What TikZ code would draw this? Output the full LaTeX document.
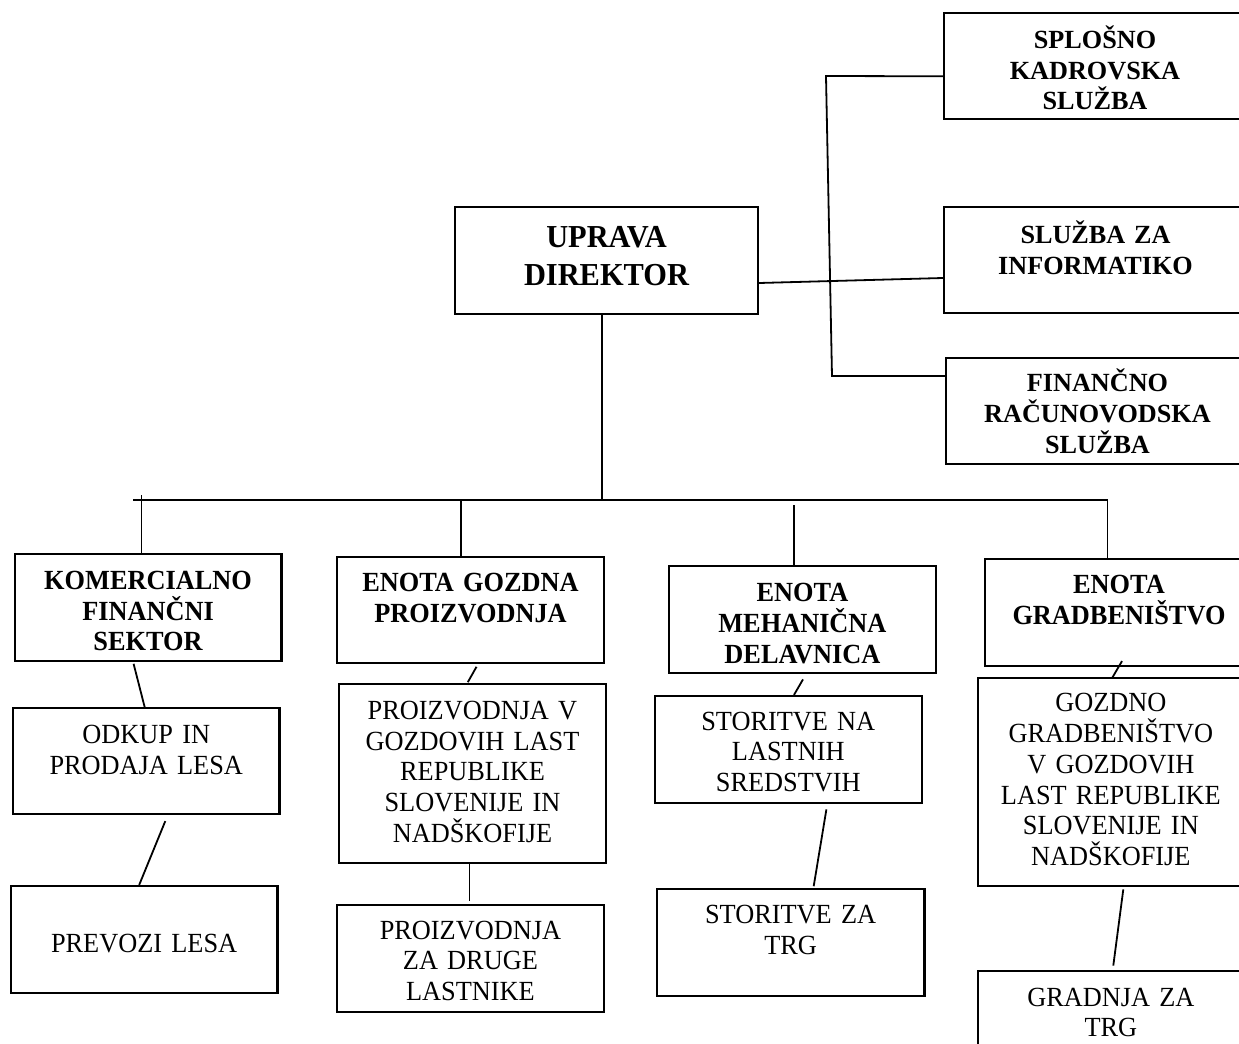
\documentclass[tikz,border=0pt]{standalone}
\usepackage{fontspec}
\setmainfont{Liberation Serif}
\newfontfamily\condfont{Liberation Serif}[FakeStretch=0.95]
\usetikzlibrary{calc}
\tikzset{
  box/.style={draw, line width=1.1pt, inner sep=0pt, align=center, rectangle},
  sv/.style={box, font=\fontsize{13.1pt}{15.4pt}\selectfont\bfseries},
  hd/.style={box, font=\condfont\fontsize{13.85pt}{15.4pt}\selectfont\bfseries},
  bd/.style={box, font=\condfont\fontsize{13.85pt}{15.4pt}\selectfont},
  top/.style={box, font=\condfont\fontsize{16pt}{19pt}\selectfont\bfseries},
  ln/.style={line width=0.9pt}
}
\begin{document}
\begin{tikzpicture}[x=0.5pt,y=-0.5pt]
\useasboundingbox (0,0) rectangle (1239,1044);
\clip (0,0) rectangle (1239,1044);
\fill[white] (0,0) rectangle (1239,1044);

% top-right boxes
\node[sv, text width=151pt, text height=17.65pt, text depth=35.35pt] (spl) at (1095,66) {SPLOŠNO\\KADROVSKA\\SLUŽBA};
\node[sv, text width=151.5pt, text height=18.15pt, text depth=34.85pt] (inf) at (1095.5,260) {SLUŽBA ZA\\INFORMATIKO};
\node[sv, text width=151.5pt, text height=16.85pt, text depth=36.15pt] (fin) at (1097.5,411) {FINANČNO\\RAČUNOVODSKA\\SLUŽBA};

% head
\node[top, text width=151.5pt, text height=20pt, text depth=33.5pt] (upr) at (606.5,260.5) {UPRAVA\\DIREKTOR};

% second level
\node[hd, text width=133.45pt, text height=17.8pt, text depth=35.85pt] (kom) at (148.05,607.35) {KOMERCIALNO\\FINANČNI\\SEKTOR};
\node[hd, text width=133.5pt, text height=17.5pt, text depth=35.8pt] (egp) at (470.5,610) {ENOTA GOZDNA\\PROIZVODNJA};
\node[hd, text width=133.85pt, text height=17.85pt, text depth=35.8pt] (emd) at (802.45,619.65) {ENOTA\\MEHANIČNA\\DELAVNICA};
\node[hd, text width=134pt, text height=17.15pt, text depth=36.2pt] (egr) at (1119,612.35) {ENOTA\\GRADBENIŠTVO};

% third level
\node[bd, text width=133.25pt, text height=17.5pt, text depth=35.5pt] (odk) at (146.25,761.3) {ODKUP IN\\PRODAJA LESA};
\node[bd, text width=133.2pt, text height=17.65pt, text depth=72pt] (pvg) at (472.5,773.65) {PROIZVODNJA V\\GOZDOVIH LAST\\REPUBLIKE\\SLOVENIJE IN\\NADŠKOFIJE};
\node[bd, text width=133.45pt, text height=17pt, text depth=36.65pt] (snl) at (788.25,749.65) {STORITVE NA\\LASTNIH\\SREDSTVIH};
\node[bd, text width=133.15pt, text height=17pt, text depth=87.15pt] (ggr) at (1110.85,781.85) {GOZDNO\\GRADBENIŠTVO\\V GOZDOVIH\\LAST REPUBLIKE\\SLOVENIJE IN\\NADŠKOFIJE};

% fourth level
\node[bd, text width=133.4pt, text height=33.35pt, text depth=20.3pt] (prv) at (144.1,939.65) {PREVOZI LESA};
\node[bd, text width=133.6pt, text height=17pt, text depth=36.65pt] (pzd) at (470.4,958.65) {PROIZVODNJA\\ZA DRUGE\\LASTNIKE};
\node[bd, text width=133.8pt, text height=17.15pt, text depth=36.35pt] (stz) at (790.6,942.5) {STORITVE ZA\\TRG};
\node[bd, text width=133.15pt, text height=17.65pt, text depth=35.5pt] (gzt) at (1110.85,1023.85) {GRADNJA ZA\\TRG};

% trunk and bus
\coordinate (busL) at (133,500);
\coordinate (busR) at (1107.5,500);
\coordinate (tr) at ($(upr.south)+(-4.5,0)$);
\draw[ln] (busL) -- (busR);
\draw[ln] (tr) -- (tr |- busL);
\draw[ln] ($(kom.north)+(-6.5,0)$) -- ($(kom.north)+(-6.5,-57.7)$);
\coordinate (t2) at ($(egp.north)+(-9.9,0)$);
\draw[ln] (t2) -- (t2 |- busL);
\draw[ln] ($(emd.north)+(-8.45,0)$) -- ($(emd.north)+(-8.45,-60)$);
\coordinate (t4) at ($(egr.north)+(-11.5,0)$);
\draw[ln] (t4) -- (t4 |- busR);

% right-hand services
\coordinate (bt) at (826,76);
\coordinate (bb) at (832,376);
\draw[ln] ($(upr.east)+(0,22.5)$) -- ($(inf.west)+(0,18)$);
\draw[ln] ($(spl.west)+(0,10.3)$) -- (bt) -- (bb) -- ($(fin.west)+(0,-35)$);

% sub connectors
\draw[ln] ($(kom.south)+(-14.45,1.7)$) -- ($(odk.north)+(-1.55,0)$);
\draw[ln] ($(odk.south)+(19.05,5.7)$) -- ($(prv.north)+(-4.9,0)$);
\draw[ln] ($(egp.south)+(6,2.4)$) -- ($(pvg.north)+(-4.7,-0.7)$);
\draw[ln] ($(pvg.south)+(-3.1,0)$) -- ($(pzd.north)+(-1,-2.7)$);
\draw[ln] ($(emd.south)+(0.55,5)$) -- ($(snl.north)+(5.75,0)$);
\draw[ln] ($(snl.south)+(38.15,5)$) -- ($(stz.north)+(23.1,-1.7)$);
\draw[ln] ($(egr.south)+(3,-5.7)$) -- ($(ggr.north)+(1.15,1.6)$);
\draw[ln] ($(ggr.south)+(12.45,2.3)$) -- ($(gzt.north)+(2.45,-4)$);
\end{tikzpicture}
\end{document}
